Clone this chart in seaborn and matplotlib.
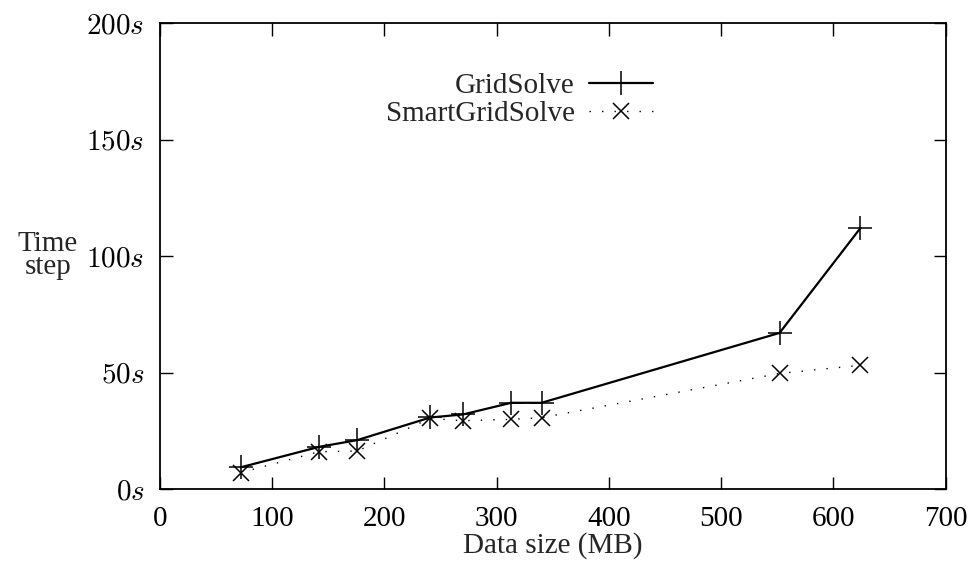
import matplotlib
matplotlib.use("Agg")
import matplotlib.pyplot as plt
import seaborn as sns
import pandas as pd

data_size = [72, 142, 176, 241, 270, 313, 340, 552, 624]
gridsolve = [9.3, 18.1, 21.0, 30.7, 32.0, 37.0, 37.0, 67.0, 112.0]
smartgridsolve = [7.0, 16.0, 16.3, 30.3, 29.3, 29.9, 30.6, 49.6, 53.1]
x_ticks = [0, 100, 200, 300, 400, 500, 600, 700]
y_ticks = [0, 50, 100, 150, 200]
y_tick_labels = [r"$0s$", r"$50s$", r"$100s$", r"$150s$", r"$200s$"]

sns.set_theme(style="ticks")
plt.rcParams["font.family"] = ["Liberation Serif", "DejaVu Serif"]
plt.rcParams["mathtext.fontset"] = "cm"

fig = plt.figure(figsize=(9.74, 5.71), dpi=100)
ax = fig.add_axes([0.164, 0.1436, 0.807, 0.816])

df_g = pd.DataFrame({"x": data_size, "y": gridsolve})
df_s = pd.DataFrame({"x": data_size, "y": smartgridsolve})

sns.lineplot(data=df_g, x="x", y="y", ax=ax, color="black", linewidth=1.6,
             marker="+", markersize=17, markeredgewidth=1.1,
             markeredgecolor="black", markerfacecolor="black",
             label="GridSolve")
sns.lineplot(data=df_s, x="x", y="y", ax=ax, color="black", linewidth=1.0,
             linestyle=(0, (1, 8)), marker="x", markersize=12,
             markeredgewidth=1.1, markeredgecolor="black",
             markerfacecolor="black", label="SmartGridSolve")

ax.set_xlim(0, 700)
ax.set_ylim(0, 200)
ax.set_xticks(x_ticks)
ax.set_xticklabels([str(t) for t in x_ticks], fontsize=21)
ax.set_yticks(y_ticks)
ax.set_yticklabels(y_tick_labels, fontsize=21)
ax.tick_params(direction="in", length=9, width=1, top=True, right=True,
               colors="black")
ax.tick_params(axis="x", pad=12)
ax.tick_params(axis="y", pad=11)
for s in ax.spines.values():
    s.set_color("black")
    s.set_linewidth(1.3)

ax.set_xlabel("Data size (MB)", fontsize=21, labelpad=0)
ax.set_ylabel("")
fig.text(0.049, 0.552, "Time\nstep", fontsize=21, ha="center", va="center",
         linespacing=0.85)

leg = ax.legend(loc="upper right", bbox_to_anchor=(0.643, 0.918), frameon=False,
                markerfirst=False, fontsize=21, handlelength=2.2,
                labelspacing=0.05, handletextpad=0.5, borderaxespad=0)
leg._legend_box.align = "right"
for t in leg.get_texts():
    t.set_ha("right")

fig.savefig("out.png", dpi=100)
